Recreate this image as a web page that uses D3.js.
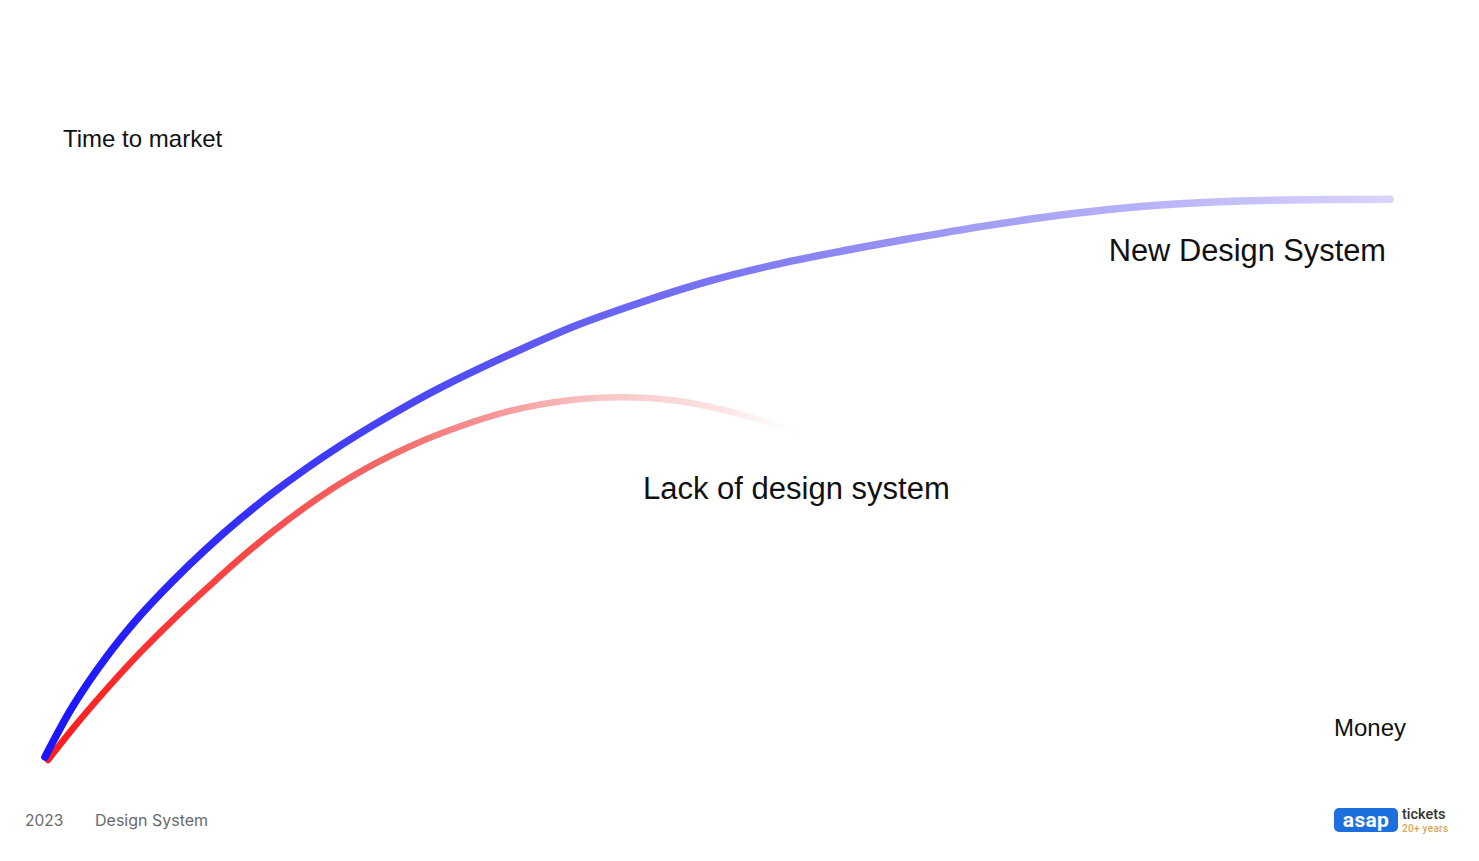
<!DOCTYPE html>
<html>
<head>
<meta charset="utf-8">
<script src="https://cdn.jsdelivr.net/npm/d3@7"></script>
<style>
  html, body { margin: 0; padding: 0; background: #fff; }
  svg { display: block; }
</style>
</head>
<body>
<svg id="chart" width="1479" height="861"></svg>
<script>
// ---- data (x: money, y: time to market, 0..100 units) ----
const newDesignX = [0, 2.08, 4.61, 7.06, 9.52, 12.04, 14.50, 16.95, 19.48, 21.93, 24.39, 26.91, 29.37, 34.35, 39.26, 44.24, 49.22, 54.13, 59.11, 64.46, 69.81, 75.09, 80.45, 85.80, 91.15, 96.43, 100];
const newDesignY = [0.18, 9.30, 18.20, 25.44, 31.70, 37.53, 42.72, 47.44, 51.88, 55.83, 59.50, 63.02, 66.21, 71.97, 77.16, 81.45, 85.21, 88.16, 90.61, 92.97, 95.15, 96.99, 98.43, 99.32, 99.77, 99.91, 99.95];
const lackX = [0.22, 2.08, 4.61, 7.06, 9.52, 12.04, 14.50, 16.95, 19.48, 21.93, 24.39, 26.91, 29.37, 34.35, 39.26, 42.97, 46.69, 50.41, 54.13, 57.40];
const lackY = [-0.36, 5.30, 12.40, 18.82, 24.72, 30.38, 35.69, 40.54, 45.10, 49.05, 52.47, 55.51, 58.00, 61.95, 64.08, 64.53, 63.99, 62.29, 59.79, 56.87];
const seriesNames = ["New Design System", "Lack of design system"];
const axisLabels = ["Time to market", "Money"];
const footer = ["2023", "Design System"];

const svg = d3.select("#chart");
const x = d3.scaleLinear().domain([0, 100]).range([45, 1390]);
const y = d3.scaleLinear().domain([0, 100]).range([758, 199]);

const defs = svg.append("defs");
const gBlue = defs.append("linearGradient").attr("id", "gBlue")
  .attr("gradientUnits", "userSpaceOnUse")
  .attr("x1", x(0)).attr("y1", 0).attr("x2", x(100)).attr("y2", 0);
gBlue.append("stop").attr("offset", "0%").attr("stop-color", "#1a14ff");
gBlue.append("stop").attr("offset", "35%").attr("stop-color", "#5a55f2");
gBlue.append("stop").attr("offset", "65%").attr("stop-color", "#9a96f3");
gBlue.append("stop").attr("offset", "100%").attr("stop-color", "#d8d4fb");

const gRed = defs.append("linearGradient").attr("id", "gRed")
  .attr("gradientUnits", "userSpaceOnUse")
  .attr("x1", x(0)).attr("y1", 0).attr("x2", x(57.4)).attr("y2", 0);
gRed.append("stop").attr("offset", "0%").attr("stop-color", "#ff1a1a").attr("stop-opacity", 1);
gRed.append("stop").attr("offset", "45%").attr("stop-color", "#f36b6b").attr("stop-opacity", 1);
gRed.append("stop").attr("offset", "72%").attr("stop-color", "#f8c6c6").attr("stop-opacity", 1);
gRed.append("stop").attr("offset", "88%").attr("stop-color", "#fce4e4").attr("stop-opacity", 1);
gRed.append("stop").attr("offset", "100%").attr("stop-color", "#ffffff").attr("stop-opacity", 0);

const line = d3.line().x(d => x(d[0])).y(d => y(d[1])).curve(d3.curveCatmullRom.alpha(0.5));

svg.append("path")
  .datum(lackX.map((v, i) => [v, lackY[i]]))
  .attr("d", line)
  .attr("fill", "none")
  .attr("stroke", "url(#gRed)")
  .attr("stroke-width", 6.5)
  .attr("stroke-linecap", "round");

svg.append("path")
  .datum(newDesignX.map((v, i) => [v, newDesignY[i]]))
  .attr("d", line)
  .attr("fill", "none")
  .attr("stroke", "url(#gBlue)")
  .attr("stroke-width", 7.5)
  .attr("stroke-linecap", "round");

const font = "'Liberation Sans', Arial, Helvetica, sans-serif";

svg.append("text").attr("x", 63).attr("y", 147)
  .attr("font-family", font).attr("font-size", 24).attr("fill", "#111")
  .text(axisLabels[0]);
svg.append("text").attr("x", 1406).attr("y", 736).attr("text-anchor", "end")
  .attr("font-family", font).attr("font-size", 24).attr("fill", "#111")
  .text(axisLabels[1]);

svg.append("text").attr("x", 1386).attr("y", 261).attr("text-anchor", "end")
  .attr("font-family", font).attr("font-size", 30.8).attr("fill", "#111")
  .text(seriesNames[0]);
svg.append("text").attr("x", 643).attr("y", 499)
  .attr("font-family", font).attr("font-size", 31).attr("fill", "#111")
  .text(seriesNames[1]);

const ffont = "Inter, 'Open Sans', sans-serif";
svg.append("text").attr("x", 25).attr("y", 826)
  .attr("font-family", ffont).attr("font-size", 15.5).attr("fill", "#6a6a6a")
  .text(footer[0]);
svg.append("text").attr("x", 95).attr("y", 826)
  .attr("font-family", ffont).attr("font-size", 16).attr("fill", "#6a6a6a")
  .text(footer[1]);

// logo
const logo = svg.append("g");
logo.append("rect").attr("x", 1334).attr("y", 808).attr("width", 64).attr("height", 24)
  .attr("rx", 5).attr("fill", "#1c6fdc");
logo.append("text").attr("x", 1366).attr("y", 827).attr("text-anchor", "middle")
  .attr("font-family", "Roboto, 'Open Sans', sans-serif").attr("font-weight", 700)
  .attr("font-size", 21).attr("fill", "#fff").attr("letter-spacing", 0.3).text("asap");
logo.append("text").attr("x", 1402).attr("y", 819)
  .attr("font-family", "Roboto, sans-serif").attr("font-weight", 500)
  .attr("font-size", 14.5).attr("fill", "#333").text("tickets");
logo.append("text").attr("x", 1402).attr("y", 832)
  .attr("font-family", "Roboto, sans-serif").attr("font-weight", 500)
  .attr("font-size", 10).attr("fill", "#dba553").attr("letter-spacing", 0.3).text("20+ years");
</script>
</body>
</html>
